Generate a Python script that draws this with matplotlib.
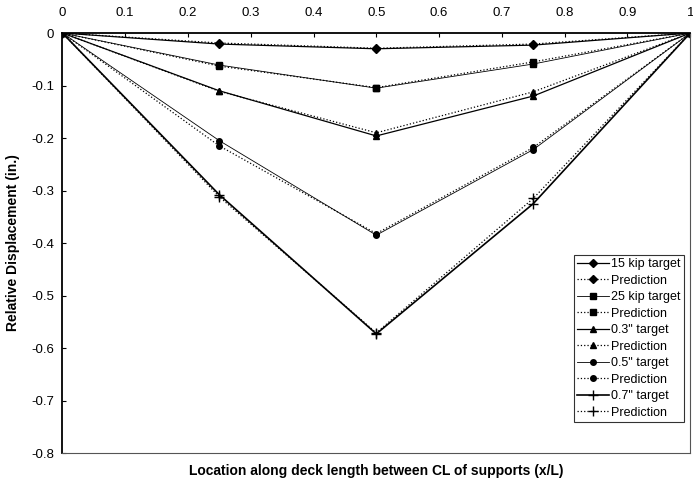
import matplotlib.pyplot as plt

# locations along the deck (x/L)
x = [0, 0.25, 0.5, 0.75, 1.0]

# measured (target) and predicted relative displacements (in.)
kip15_target = [0, -0.021, -0.030, -0.023, 0]
kip15_pred = [0, -0.019, -0.029, -0.021, 0]
kip25_target = [0, -0.061, -0.105, -0.059, 0]
kip25_pred = [0, -0.063, -0.104, -0.055, 0]
in03_target = [0, -0.110, -0.196, -0.120, 0]
in03_pred = [0, -0.111, -0.190, -0.112, 0]
in05_target = [0, -0.205, -0.385, -0.222, 0]
in05_pred = [0, -0.215, -0.382, -0.218, 0]
in07_target = [0, -0.308, -0.573, -0.325, 0]
in07_pred = [0, -0.312, -0.571, -0.315, 0]

series = [
    ("15 kip target", kip15_target, "-", "D", 0.9),
    ("Prediction", kip15_pred, ":", "D", 0.9),
    ("25 kip target", kip25_target, "-", "s", 0.6),
    ("Prediction", kip25_pred, ":", "s", 0.9),
    ("0.3\" target", in03_target, "-", "^", 0.9),
    ("Prediction", in03_pred, ":", "^", 0.9),
    ("0.5\" target", in05_target, "-", "o", 0.6),
    ("Prediction", in05_pred, ":", "o", 0.9),
    ("0.7\" target", in07_target, "-", "+", 1.2),
    ("Prediction", in07_pred, ":", "+", 0.9),
]

plt.rcParams['font.family'] = ['Liberation Sans', 'DejaVu Sans']

fig = plt.figure(figsize=(6.93, 4.93), dpi=100)
ax = fig.add_axes([0.09, 0.081, 0.906, 0.852])

for label, y, ls, mk, lw in series:
    ms = 7 if mk == "+" else 4
    ax.plot(x, y, color="black", linestyle=ls, linewidth=lw, marker=mk,
            markersize=ms, markeredgewidth=1.0, label=label)

ax.set_xlim(0, 1)
ax.set_ylim(-0.8, 0)
ax.set_xticks([0, 0.1, 0.2, 0.3, 0.4, 0.5, 0.6, 0.7, 0.8, 0.9, 1])
ax.set_xticklabels(["0", "0.1", "0.2", "0.3", "0.4", "0.5", "0.6", "0.7", "0.8", "0.9", "1"])
ax.set_yticks([0, -0.1, -0.2, -0.3, -0.4, -0.5, -0.6, -0.7, -0.8])
ax.set_yticklabels(["0", "-0.1", "-0.2", "-0.3", "-0.4", "-0.5", "-0.6", "-0.7", "-0.8"])
ax.xaxis.tick_top()
ax.tick_params(axis="both", labelsize=9.5, direction="in", length=3, width=0.8, pad=6)
ax.tick_params(axis="x", top=True, bottom=False, pad=10)

for side in ["top", "left"]:
    ax.spines[side].set_linewidth(1.3)
for side in ["right", "bottom"]:
    ax.spines[side].set_linestyle((0, (4, 1)))
    ax.spines[side].set_linewidth(0.8)
    ax.spines[side].set_color("#555555")

ax.set_xlabel("Location along deck length between CL of supports (x/L)",
              fontsize=10, fontweight="bold", labelpad=8)
ax.set_ylabel("Relative Displacement (in.)", fontsize=10, fontweight="bold", labelpad=8)

leg = ax.legend(loc="lower right", bbox_to_anchor=(0.99, 0.074), fontsize=9,
                frameon=True, fancybox=False, edgecolor="black",
                handlelength=2.6, handletextpad=0.15, borderpad=0.25,
                labelspacing=0.36, borderaxespad=0)
leg.get_frame().set_linewidth(0.8)

plt.savefig("out.png", dpi=100)
plt.close()
